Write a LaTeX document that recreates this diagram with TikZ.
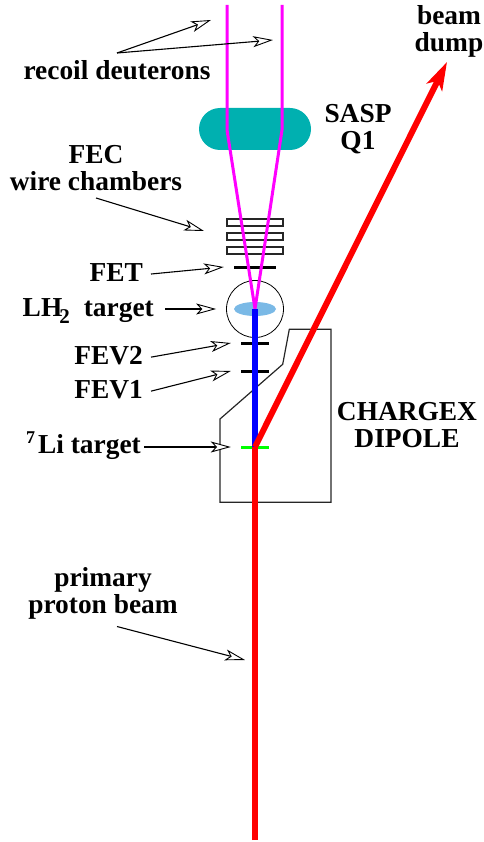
\documentclass[tikz,border=0pt]{standalone}
\usepackage{fontspec}
\setmainfont{Liberation Serif}
\usetikzlibrary{arrows.meta}
\usetikzlibrary{shapes.misc, shapes.geometric}
\definecolor{quadteal}{RGB}{0,176,176}
\definecolor{lhblue}{RGB}{122,185,230}
\definecolor{deuteron}{RGB}{255,0,255}
\definecolor{beamred}{RGB}{255,0,0}
\definecolor{beamblue}{RGB}{0,0,255}
\definecolor{ligreen}{RGB}{0,255,0}
\tikzset{
    label/.style = {
        font=\bfseries\fontsize{27.4}{27}\selectfont, inner sep=0pt, align=center, anchor=base
    },
    bar/.style = {
        rectangle, fill=black, inner sep=0pt, minimum height=3pt
    },
    chamber/.style = {
        draw=black!85, line width=1.2pt, rectangle, inner sep=0pt, minimum width=56pt, minimum height=7pt
    },
    pointer/.style = {
        line width=1.1pt, -{Stealth[length=20pt, width=11pt, inset=5pt, fill=white, line width=0.9pt]}
    },
    beam/.style = {
        line width=6pt
    },
}
\begin{document}
\begin{tikzpicture}[x=1pt, y=-1pt]
        \useasboundingbox (0,0) rectangle (483,842);

        % Place the hardware
        \node [rounded rectangle, fill=quadteal, minimum width=112pt, minimum height=42pt, inner sep=0pt] (q1) at (255,129) {};
        \draw[line width=1.2pt, black!85] (220,419) -- (282.7,364.3) -- (289.3,329.3) -- (331,329.3) -- (331,502.3) -- (220,502.3) -- cycle;
        \node [chamber] (wc1) at (255,222.5) {};
        \node [chamber] (wc2) at (255,236.5) {};
        \node [chamber] (wc3) at (255,250.5) {};
        \node [bar, minimum width=42pt] (fet) at (255,267) {};
        \node [circle, draw, line width=0.8pt, minimum size=57pt, inner sep=0pt] (lh2) at (255,309) {};
        \node [ellipse, fill=lhblue, minimum width=42pt, minimum height=14pt, inner sep=0pt] (cell) at (255,309) {};
        \node [bar, minimum width=28pt] (fev2) at (255,343) {};
        \node [bar, minimum width=28pt] (fev1) at (255,371) {};
        \node [bar, minimum width=28pt, fill=ligreen] (li) at (255,447) {};

        % Draw the beams
        \coordinate (start) at (255,840);
        \coordinate (lefttop) at (227,5);
        \coordinate (leftbend) at (227,130);
        \coordinate (righttop) at (282,5);
        \coordinate (rightbend) at (282,130);
        \coordinate (dump) at (447,62);
        \draw[deuteron, line width=3pt] (lefttop) -- (leftbend) -- (cell.center) -- (rightbend) -- (righttop);
        \draw[beam, beamblue] (li.center) -- (cell.center);
        \draw[beam, beamred] (start) -- (li.center);
        \draw[beam, beamred, -{Stealth[length=28pt, width=17pt, inset=7pt]}] (li.center) -- (dump);

        % Place the labels
        \node [label] (recoil) at (117,80) {recoil deuterons};
        \node [label] (sasp) at (358,150) {SASP\\Q1};
        \node [label] (fec) at (96,191) {FEC\\wire chambers};
        \node [label, anchor=base east] (fetlabel) at (143,281) {FET};
        \node [label, anchor=base east] (lh2label) at (154,316) {LH\hspace{-3pt}\raisebox{-7pt}{\fontsize{21}{21}\selectfont 2}\hspace{14pt}target};
        \node [label, anchor=base east] (fev2label) at (143,364) {FEV2};
        \node [label, anchor=base east] (fev1label) at (143,398) {FEV1};
        \node [label, anchor=base east] (lilabel) at (141,453) {\raisebox{10pt}{\fontsize{18}{18}\selectfont 7}\hspace{3pt}Li target};
        \node [label] (chargex) at (407,447) {CHARGEX\\DIPOLE};
        \node [label] (proton) at (103,613) {primary\\proton beam};
        \node [label] (dumplabel) at (449,52) {beam\\dump};

        % Draw the pointers
        \coordinate (recoiltail) at (117,53);
        \coordinate (recoilleft) at (211,20);
        \coordinate (recoilright) at (273,40);
        \coordinate (fectail) at (96,198);
        \coordinate (fechead) at (204,231);
        \coordinate (protontail) at (117,626.5);
        \coordinate (protonhead) at (245,660);
        \draw[pointer] (recoiltail) -- (recoilleft);
        \draw[pointer] (recoiltail) -- (recoilright);
        \draw[pointer] (fectail) -- (fechead);
        \draw[pointer] ([xshift=8pt,yshift=-2pt]fetlabel.east) -- ([xshift=-10pt]fet.west);
        \draw[pointer] ([xshift=11pt]lh2label.east |- lh2.west) -- ([xshift=-10pt]lh2.west);
        \draw[pointer] ([xshift=8pt,yshift=-2pt]fev2label.east) -- ([xshift=-10pt]fev2.west);
        \draw[pointer] ([xshift=8pt,yshift=-2pt]fev1label.east) -- ([xshift=-10pt]fev1.west);
        \draw[pointer] ([xshift=3pt]lilabel.east |- li.west) -- ([xshift=-10pt]li.west);
        \draw[pointer] (protontail) -- (protonhead);
    \end{tikzpicture}
\end{document}
